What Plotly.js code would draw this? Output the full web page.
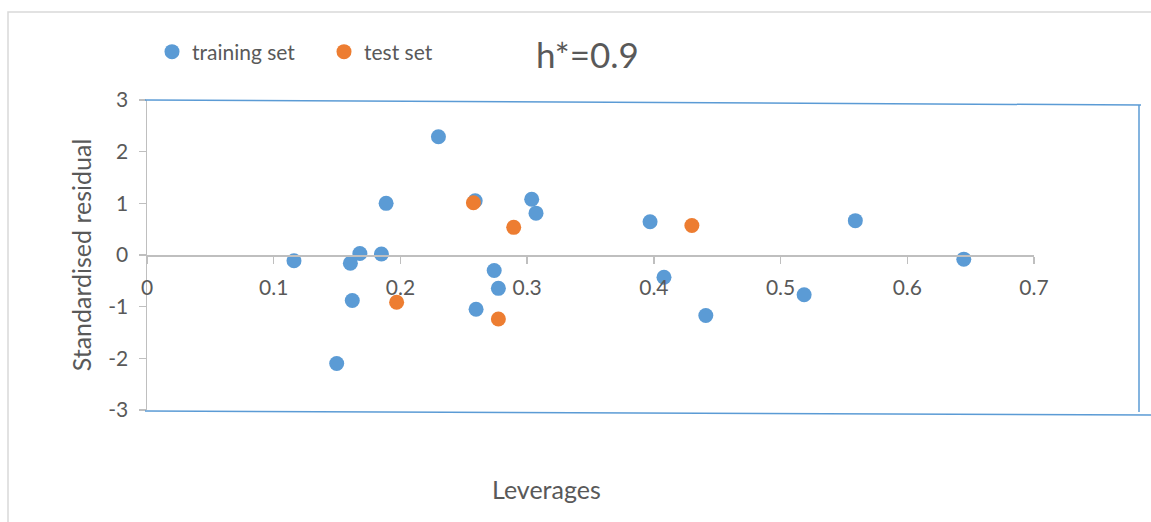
<!DOCTYPE html>
<html>
<head>
<meta charset="utf-8">
<script src="https://cdn.plot.ly/plotly-3.0.1.min.js"></script>
<style>html,body{margin:0;padding:0;background:#fff;}#chart{width:1151px;height:522px;}</style>
</head>
<body>
<div id="chart"></div>
<script>
// Data
const trainingLeverage = [0.116, 0.1605, 0.168, 0.185, 0.1887, 0.230, 0.259, 0.3036, 0.307, 0.274, 0.2773, 0.162, 0.2597, 0.1497, 0.397, 0.559, 0.6446, 0.408, 0.5186, 0.441];
const trainingResidual = [-0.11, -0.16, 0.03, 0.02, 1.00, 2.29, 1.05, 1.08, 0.81, -0.30, -0.645, -0.88, -1.05, -2.10, 0.645, 0.665, -0.08, -0.43, -0.77, -1.17];
const testLeverage = [0.2576, 0.2894, 0.197, 0.2773, 0.430];
const testResidual = [1.01, 0.535, -0.915, -1.24, 0.57];
const xTicks = [0, 0.1, 0.2, 0.3, 0.4, 0.5, 0.6, 0.7];
const xTickLabels = ['0', '0.1', '0.2', '0.3', '0.4', '0.5', '0.6', '0.7'];
const yTicks = [-3, -2, -1, 0, 1, 2, 3];
const yTickLabels = ['-3', '-2', '-1', '0', '1', '2', '3'];
const seriesNames = ['training set', 'test set'];
const annotationText = 'h*=0.9';
const xTitle = 'Leverages';
const yTitle = 'Standardised residual';

const W = 1151, H = 522;
const M = {l: 147, r: 117, t: 100, b: 112};
const PW = W - M.l - M.r, PH = H - M.t - M.b;
const px = v => (v - M.l) / PW;
const py = v => (H - M.b - v) / PH;

const FONT = 'Lato, "Open Sans", "Noto Sans", sans-serif';
const TXT = '#595959';
const AX = '#BFBFBF';
const LIM = '#5B9BD5';

const traces = [
  {type: 'scatter', mode: 'markers', name: seriesNames[0], x: trainingLeverage, y: trainingResidual,
   marker: {color: '#5B9BD5', size: 15}},
  {type: 'scatter', mode: 'markers', name: seriesNames[1], x: testLeverage, y: testResidual,
   marker: {color: '#ED7D31', size: 15}}
];

const layout = {
  width: W, height: H,
  margin: M,
  paper_bgcolor: '#fff', plot_bgcolor: '#fff',
  font: {family: FONT, color: TXT, size: 20},
  showlegend: true,
  legend: {orientation: 'h', x: px(152), xanchor: 'left', y: py(52), yanchor: 'middle',
           entrywidth: 127, entrywidthmode: 'pixels',
           font: {family: FONT, size: 21, color: TXT}, itemclick: false, bgcolor: 'rgba(0,0,0,0)'},
  xaxis: {range: [0, 0.7], anchor: 'free', position: 0.5, showline: true, linecolor: AX, linewidth: 1.5,
          ticks: 'outside', ticklen: 7, tickcolor: AX, tickwidth: 1.5,
          tickvals: xTicks, ticktext: xTickLabels, ticklabelstandoff: 6,
          showgrid: false, zeroline: false, tickfont: {size: 21, color: TXT}},
  yaxis: {range: [-3, 3], showline: true, linecolor: AX, linewidth: 1.5,
          ticks: 'outside', ticklen: 7, tickcolor: AX, tickwidth: 1.5,
          tickvals: yTicks, ticktext: yTickLabels, ticklabelstandoff: 6,
          showgrid: false, zeroline: false, tickfont: {size: 21, color: TXT},
          title: {text: yTitle, standoff: 9, font: {size: 25, color: TXT}}},
  annotations: [
    {text: annotationText, xref: 'paper', yref: 'paper', x: px(587), y: py(54), xanchor: 'center', yanchor: 'middle',
     showarrow: false, font: {family: FONT, size: 35, color: TXT}},
    {text: xTitle, xref: 'paper', yref: 'paper', x: px(546), y: py(489), xanchor: 'center', yanchor: 'middle',
     showarrow: false, font: {family: FONT, size: 25, color: TXT}}
  ],
  shapes: [
    {type: 'rect', xref: 'paper', yref: 'paper', x0: px(8), y0: py(540), x1: px(1170), y1: py(12),
     line: {color: '#D9D9D9', width: 1.5}, fillcolor: 'rgba(0,0,0,0)', layer: 'below'},
    {type: 'line', xref: 'paper', yref: 'paper', x0: px(145), y0: py(100), x1: px(1141), y1: py(105),
     line: {color: LIM, width: 1.5}},
    {type: 'line', xref: 'paper', yref: 'paper', x0: px(1139), y0: py(105), x1: px(1139), y1: py(412),
     line: {color: LIM, width: 1.5}},
    {type: 'line', xref: 'paper', yref: 'paper', x0: px(145), y0: py(411), x1: px(1151), y1: py(415),
     line: {color: LIM, width: 1.5}}
  ]
};

Plotly.newPlot('chart', traces, layout, {displayModeBar: false, staticPlot: true});
</script>
</body>
</html>
